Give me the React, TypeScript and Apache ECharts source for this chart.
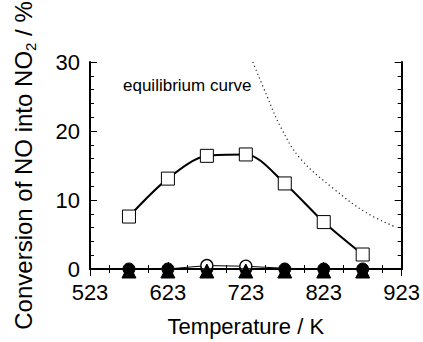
import React, { useEffect, useRef } from "react";
import * as echarts from "echarts";

const temperatures = [573, 623, 673, 723, 773, 823, 873];
const squareValues = [7.6, 13.1, 16.4, 16.6, 12.4, 6.8, 2.1];
const openCircleValues = [0, 0, 0.5, 0.4, 0.1, 0, 0];
const filledCircleValues = [0, 0, 0, 0, 0, 0, 0];
const triangleValues = [0, 0, 0, 0, 0, 0, 0];
const equilibriumT = [732, 750, 768, 793, 835, 877, 915];
const equilibriumValues = [30, 25.1, 20.5, 16.0, 11.7, 8.2, 6.1];
const xTicks = { min: 523, max: 923, interval: 100 };
const yTicks = { min: 0, max: 30, interval: 10 };

const FONT = "'Liberation Sans', Arial, Helvetica, sans-serif";

function pairs(xs: number[], ys: number[]) {
  return xs.map((x, i) => [x, ys[i]]);
}

export default function App() {
  const ref = useRef<HTMLDivElement>(null);
  useEffect(() => {
    if (!ref.current) return;
    const chart = echarts.init(ref.current, undefined, { renderer: "svg" });
    const axisLine = { show: true, lineStyle: { color: "#000", width: 2 } };
    const tick = { show: true, inside: true, length: 7, lineStyle: { color: "#000", width: 1 } };
    chart.setOption({
      animation: false,
      backgroundColor: "#fff",
      textStyle: { fontFamily: FONT },
      grid: { left: 86, top: 62, width: 317, height: 215, containLabel: false },
      xAxis: [
        {
          type: "value",
          min: xTicks.min,
          max: xTicks.max,
          interval: xTicks.interval,
          axisLine,
          axisTick: tick,
          minorTick: { show: true, splitNumber: 4, length: 4, lineStyle: { color: "#000" } },
          splitLine: { show: false },
          axisLabel: { color: "#000", fontSize: 22, fontFamily: FONT, margin: 12 },
          name: "Temperature / K",
          nameLocation: "middle",
          nameGap: 46,
          nameTextStyle: { color: "#000", fontSize: 22, fontFamily: FONT },
        },
        {
          type: "value",
          position: "top",
          min: xTicks.min,
          max: xTicks.max,
          interval: xTicks.interval,
          axisLine,
          axisTick: tick,
          minorTick: { show: true, splitNumber: 4, length: 4, lineStyle: { color: "#000" } },
          splitLine: { show: false },
          axisLabel: { show: false },
        },
      ],
      yAxis: [
        {
          type: "value",
          min: yTicks.min,
          max: yTicks.max,
          interval: yTicks.interval,
          axisLine,
          axisTick: tick,
          minorTick: { show: true, splitNumber: 5, length: 4, lineStyle: { color: "#000" } },
          splitLine: { show: false },
          axisLabel: { color: "#000", fontSize: 22, fontFamily: FONT, margin: 10 },
          name: "Conversion of NO into NO{sub|2} / %",
          nameLocation: "middle",
          nameGap: 52,
          nameRotate: 90,
          nameTextStyle: {
            color: "#000",
            fontSize: 24,
            lineHeight: 30,
            fontFamily: FONT,
            rich: {
              sub: { fontSize: 15, lineHeight: 12, verticalAlign: "bottom", color: "#000", fontFamily: FONT },
            },
          },
        },
        {
          type: "value",
          position: "right",
          min: yTicks.min,
          max: yTicks.max,
          interval: yTicks.interval,
          axisLine,
          axisTick: tick,
          minorTick: { show: true, splitNumber: 5, length: 4, lineStyle: { color: "#000" } },
          splitLine: { show: false },
          axisLabel: { show: false },
        },
      ],
      graphic: [
        {
          type: "text",
          left: 123,
          top: 77,
          style: { text: "equilibrium curve", fill: "#000", fontSize: 17, fontFamily: FONT },
        },
      ],
      series: [
        {
          type: "line",
          data: pairs(equilibriumT, equilibriumValues),
          smooth: 0.4,
          showSymbol: false,
          lineStyle: { color: "#222", width: 1.2, type: [1.2, 3] },
          z: 1,
        },
        {
          type: "line",
          data: pairs(temperatures, filledCircleValues),
          symbol: "circle",
          symbolSize: 12,
          itemStyle: { color: "#000", borderColor: "#000", borderWidth: 1 },
          lineStyle: { color: "#000", width: 1.5 },
          z: 2,
        },
        {
          type: "line",
          data: pairs(temperatures, openCircleValues),
          symbol: (v: number[]) => (v[1] > 0.2 ? "circle" : "none"),
          symbolSize: 12,
          itemStyle: { color: "#fff", borderColor: "#000", borderWidth: 1.3 },
          lineStyle: { color: "#000", width: 1 },
          z: 3,
        },
        {
          type: "line",
          data: pairs(temperatures, triangleValues),
          symbol: "triangle",
          symbolSize: 14,
          symbolOffset: [0, 2],
          itemStyle: { color: "#000", borderColor: "#000", borderWidth: 1 },
          lineStyle: { color: "#000", width: 1.5 },
          z: 4,
        },
        {
          type: "line",
          data: pairs(temperatures, squareValues),
          smooth: 0.3,
          symbol: "rect",
          symbolSize: 13,
          itemStyle: { color: "#fff", borderColor: "#000", borderWidth: 1 },
          lineStyle: { color: "#000", width: 2 },
          z: 5,
        },
      ],
    });
    return () => chart.dispose();
  }, []);
  return (
    <div
      ref={ref}
      style={{ position: "fixed", left: 0, top: 0, width: 423, height: 342, background: "#fff" }}
    />
  );
}
